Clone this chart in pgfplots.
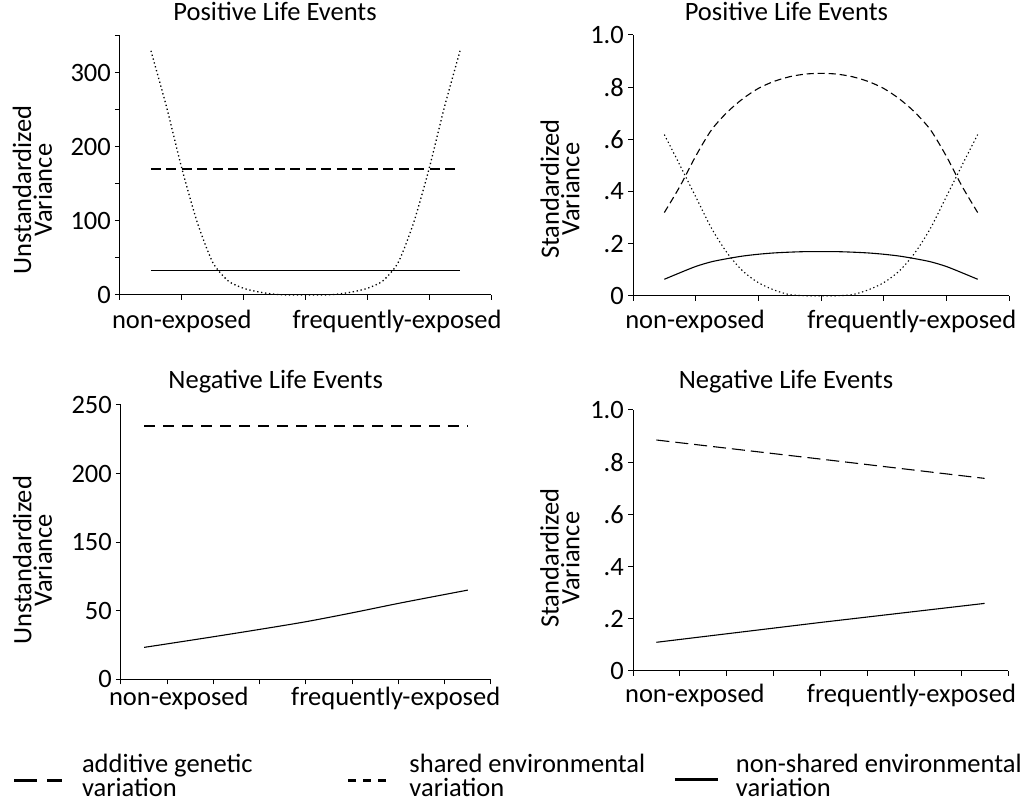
\documentclass[border=0pt]{standalone}
\usepackage{fontspec}
\setmainfont{Carlito}
\usepackage{pgfplots}
\pgfplotsset{compat=1.18}
\newcommand{\cf}{\fontsize{26.5}{31}\selectfont}
\newcommand{\lf}{\fontsize{26.5}{20.6}\selectfont}
\newcommand{\gf}{\fontsize{26.5}{23.7}\selectfont}

\pgfplotstableread{
x y
0.5 330
0.75 255
1.0 171
1.25 98
1.5 44
1.75 19
2.0 9
2.25 4
2.5 1
2.75 0
3.25 0
3.5 1
3.75 4
4.0 9
4.25 19
4.5 44
4.75 98
5.0 171
5.25 255
5.5 330
}\posUshared

\pgfplotstableread{
x a c e
0.5  0.319 0.618 0.063
0.75 0.420 0.500 0.088
1.0  0.535 0.380 0.112
1.25 0.635 0.260 0.130
1.5  0.703 0.165 0.142
1.75 0.755 0.095 0.152
2.0  0.795 0.050 0.159
2.25 0.822 0.022 0.164
2.5  0.840 0.004 0.167
2.75 0.850 0.000 0.169
3.0  0.853 0.000 0.169
3.25 0.850 0.000 0.169
3.5  0.840 0.004 0.167
3.75 0.822 0.022 0.164
4.0  0.795 0.050 0.159
4.25 0.755 0.095 0.152
4.5  0.703 0.165 0.142
4.75 0.635 0.260 0.130
5.0  0.535 0.380 0.112
5.25 0.420 0.500 0.088
5.5  0.319 0.618 0.063
}\posS

\pgfplotstableread{
x e
0.5 29.1
1.0 32.3
2.0 38.8
3.0 45.5
4.0 52.5
5.0 60.6
6.0 69.2
7.0 77.3
7.5 81.3
}\negUe

\pgfplotsset{
  panel/.style={
    scale only axis,
    clip=false,
    axis lines=left,
    axis line style={-, line width=1pt, black},
    every tick/.style={line width=1pt, black},
    tick align=outside,
    major tick length=5pt,
    xticklabels={},
    yticklabel style={font=\cf, inner sep=0pt, xshift=-4pt},
    ylabel style={font=\lf, align=center, inner sep=0pt, anchor=center},
    title style={font=\cf, inner sep=0pt, anchor=base},
    anchor=south west,
  },
  gen/.style={black, line width=1.3pt, dash pattern=on 10pt off 5.5pt},
  sha/.style={black, line width=1.3pt, dash pattern=on 1.3pt off 2.7pt},
  non/.style={black, line width=1.1pt},
}

\begin{document}
\begin{tikzpicture}
\path[use as bounding box] (0,0) rectangle (1029pt,801pt);

% Panel 1
\begin{axis}[panel,
  at={(120pt,506pt)}, width=371pt, height=259pt,
  xmin=0, xmax=6, ymin=0, ymax=350,
  xtick={0,1,2,3,4,5,6},
  ytick={0,50,100,150,200,250,300,350},
  yticklabels={0,,100,,200,,300,},
  ylabel={Unstandardized\\Variance},
  ylabel style={at={(axis description cs:-0.236,0.405)}},
  title={Positive Life Events},
  title style={at={(axis description cs:0.418,1)}, yshift=9.3pt},
]
\addplot[gen, line width=2pt] coordinates {(0.5,170.5) (5.5,170.5)};
\addplot[sha, smooth, tension=0.4] table[x=x,y=y] {\posUshared};
\addplot[non] coordinates {(0.5,33.4) (5.5,33.4)};
\node[font=\cf, anchor=base, inner sep=0pt, yshift=-33.3pt] at (axis cs:1,0) {non-exposed};
\node[font=\cf, anchor=base, inner sep=0pt, yshift=-33.3pt] at (axis cs:4.48,0) {frequently-exposed};
\end{axis}

% Panel 2
\begin{axis}[panel,
  at={(633pt,505.3pt)}, width=376pt, height=260.7pt,
  xmin=0, xmax=6, ymin=0, ymax=1,
  xtick={0,1,2,3,4,5,6},
  ytick={0,0.2,0.4,0.6,0.8,1},
  yticklabels={0,.2,.4,.6,.8,1.0},
  ylabel={Standardized\\Variance},
  ylabel style={at={(axis description cs:-0.194,0.409)}},
  title={Positive Life Events},
  title style={at={(axis description cs:0.408,1)}, yshift=8.3pt},
]
\addplot[gen, line width=1.1pt, dash pattern=on 7pt off 4pt, smooth, tension=0.5] table[x=x,y=a] {\posS};
\addplot[sha, line width=1.1pt, smooth, tension=0.5] table[x=x,y=c] {\posS};
\addplot[non, smooth, tension=0.5] table[x=x,y=e] {\posS};
\node[font=\cf, anchor=base, inner sep=0pt, yshift=-32.6pt] at (axis cs:0.99,0) {non-exposed};
\node[font=\cf, anchor=base, inner sep=0pt, yshift=-32.6pt] at (axis cs:4.45,0) {frequently-exposed};
\end{axis}

% Panel 3
\begin{axis}[panel,
  at={(121pt,121.7pt)}, width=370pt, height=274.3pt,
  xmin=0, xmax=8, ymin=0, ymax=250,
  xtick={0,1,2,3,4,5,6,7,8},
  ytick={0,62.5,125,187.5,250},
  yticklabels={0,50,150,200,250},
  ylabel={Unstandardized\\Variance},
  ylabel style={at={(axis description cs:-0.239,0.434)}},
  title={Negative Life Events},
  title style={at={(axis description cs:0.418,1)}, yshift=10pt},
]
\addplot[gen, line width=2pt, dash pattern=on 11pt off 8pt] coordinates {(0.5,230.6) (7.5,230.6)};
\addplot[non, smooth, tension=0.5] table[x=x,y=e] {\negUe};
\node[font=\cf, anchor=base, inner sep=0pt, yshift=-26pt] at (axis cs:1.25,0) {non-exposed};
\node[font=\cf, anchor=base, inner sep=0pt, yshift=-26pt] at (axis cs:5.94,0) {frequently-exposed};
\end{axis}

% Panel 4
\begin{axis}[panel,
  at={(633pt,130pt)}, width=375pt, height=261pt,
  xmin=0, xmax=8, ymin=0, ymax=1,
  xtick={0,1,2,3,4,5,6,7,8},
  ytick={0,0.2,0.4,0.6,0.8,1},
  yticklabels={0,.2,.4,.6,.8,1.0},
  ylabel={Standardized\\Variance},
  ylabel style={at={(axis description cs:-0.195,0.433)}},
  title={Negative Life Events},
  title style={at={(axis description cs:0.408,1)}, yshift=15pt},
]
\addplot[gen, line width=1.1pt, dash pattern=on 13pt off 6pt] coordinates {(0.5,0.885) (4.0,0.812) (7.5,0.738)};
\addplot[non] coordinates {(0.5,0.110) (4.0,0.186) (7.5,0.259)};
\node[font=\cf, anchor=base, inner sep=0pt, yshift=-32pt] at (axis cs:1.32,0) {non-exposed};
\node[font=\cf, anchor=base, inner sep=0pt, yshift=-32pt] at (axis cs:5.94,0) {frequently-exposed};
\end{axis}

% Legend
\begin{axis}[hide axis, scale only axis, width=1029pt, height=50pt,
  at={(0pt,0pt)}, anchor=south west,
  xmin=0, xmax=1, ymin=0, ymax=1,
  legend columns=3,
  legend cell align=left,
  legend style={at={(axis description cs:0,0.646)}, anchor=west,
    draw=none, fill=none, inner sep=0pt, outer sep=0pt,
    /tikz/column sep=0pt,
    nodes={inner sep=0pt, font=\gf}},
]
\addlegendimage{legend image code/.code={
  \path[draw=none, fill=none] (0pt,-8pt) rectangle (82pt,8pt);
  \draw[black, solid, line width=3pt, dash pattern=on 23pt off 10pt] (14pt,-12pt) -- (62pt,-12pt);}}
\addlegendentry{\parbox[c]{265pt}{\gf additive genetic\\variation}}
\addlegendimage{legend image code/.code={
  \path[draw=none, fill=none] (0pt,-8pt) rectangle (61pt,8pt);
  \draw[black, solid, line width=3pt, dash pattern=on 8pt off 7pt] (0pt,-12pt) -- (38pt,-12pt);}}
\addlegendentry{\parbox[c]{264pt}{\gf shared environmental\\variation}}
\addlegendimage{legend image code/.code={
  \path[draw=none, fill=none] (0pt,-8pt) rectangle (61pt,8pt);
  \draw[black, solid, line width=3pt] (0pt,-11pt) -- (43pt,-11pt);}}
\addlegendentry{\parbox[c]{296pt}{\gf non-shared environmental\\variation}}
\end{axis}
\end{tikzpicture}
\end{document}
